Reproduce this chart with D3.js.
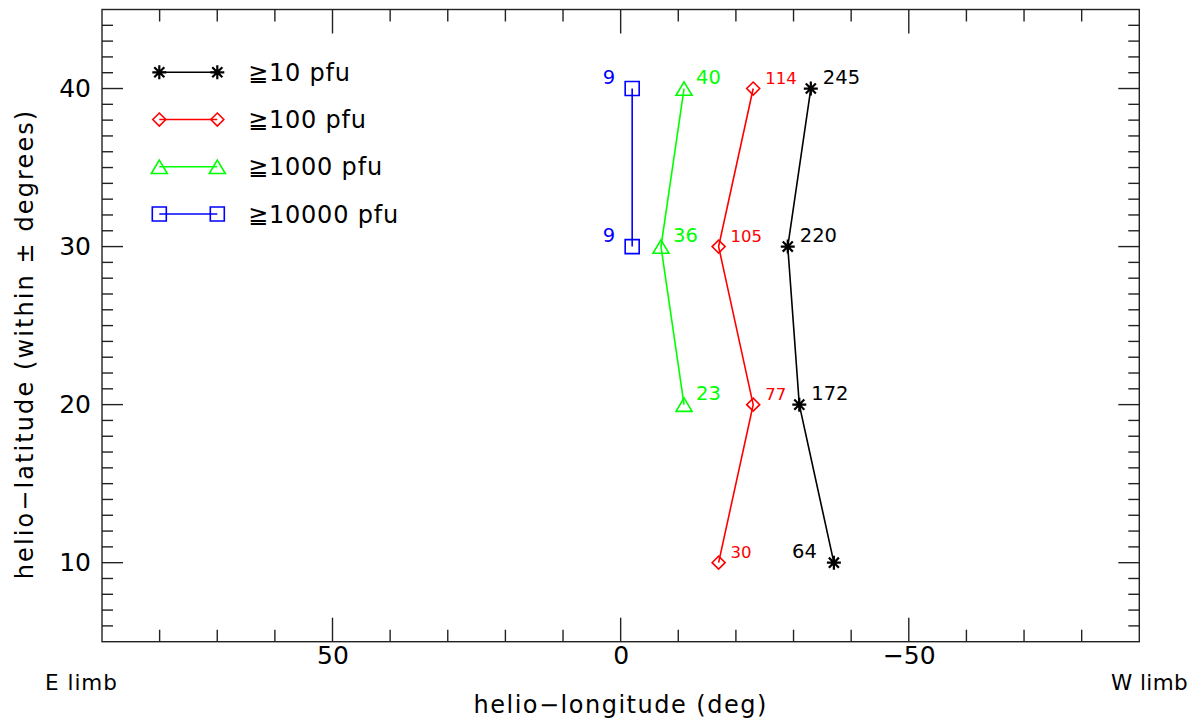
<!DOCTYPE html>
<html>
<head>
<meta charset="utf-8">
<script src="https://cdn.jsdelivr.net/npm/d3@7"></script>
<style>
    body { margin: 0; background: #fff; }
    text { font-family: "DejaVu Sans", sans-serif; }
</style>
</head>
<body>
<div id="main"></div>
<script>
// data
const lat10 = [10, 20, 30, 40];
const lon10 = [-37, -31, -29, -33];
const cnt10 = [64, 172, 220, 245];

const lat100 = [10, 20, 30, 40];
const lon100 = [-17, -23, -17, -23];
const cnt100 = [30, 77, 105, 114];

const lat1000 = [20, 30, 40];
const lon1000 = [-11, -7, -11];
const cnt1000 = [23, 36, 40];

const lat10000 = [30, 40];
const lon10000 = [-2, -2];
const cnt10000 = [9, 9];

const seriesNames = ["\u226710 pfu", "\u2267100 pfu", "\u22671000 pfu", "\u226710000 pfu"];
const xMajor = [50, 0, -50];
const yMajor = [10, 20, 30, 40];

const width = 1195, height = 725;
const margin = {left: 102, top: 9.5, right: 55.7, bottom: 83.3};

let svg = d3.select("#main").append("svg")
    .attr("width", width)
    .attr("height", height);

let scaleX = d3.scaleLinear().domain([90, -90]).range([margin.left, width - margin.right]);
let scaleY = d3.scaleLinear().domain([5, 45]).range([height - margin.bottom, margin.top]);

const series = [
    {lat: lat10, lon: lon10, cnt: cnt10, color: "#000", sym: "star", fs: 19.5, left: [true, false, false, false]},
    {lat: lat100, lon: lon100, cnt: cnt100, color: "#ff0000", sym: "diamond", fs: 16.5, left: [false, false, false, false]},
    {lat: lat1000, lon: lon1000, cnt: cnt1000, color: "#00ff00", sym: "triangle", fs: 19.5, left: [false, false, false]},
    {lat: lat10000, lon: lon10000, cnt: cnt10000, color: "#0000ff", sym: "square", fs: 19.5, left: [true, true]}
];

function symbolPath(type) {
    let p = d3.path();
    if (type === "star") {
        let r = 7, d = r * 0.72;
        p.moveTo(-r, 0); p.lineTo(r, 0);
        p.moveTo(0, -r); p.lineTo(0, r);
        p.moveTo(-d, -d); p.lineTo(d, d);
        p.moveTo(-d, d); p.lineTo(d, -d);
    } else if (type === "diamond") {
        let r = 6.5;
        p.moveTo(0, -r); p.lineTo(r, 0); p.lineTo(0, r); p.lineTo(-r, 0); p.closePath();
    } else if (type === "triangle") {
        p.moveTo(0, -6.7); p.lineTo(8, 6.7); p.lineTo(-8, 6.7); p.closePath();
    } else {
        p.rect(-7, -7, 14, 14);
    }
    return p.toString();
}

function drawAxes() {
    let g = svg.append("g").attr("stroke", "#222").attr("stroke-width", 1.4).attr("fill", "none");
    let x0 = margin.left, x1 = width - margin.right;
    let y0 = height - margin.bottom, y1 = margin.top;
    g.append("rect").attr("x", x0).attr("y", y1).attr("width", x1 - x0).attr("height", y0 - y1);

    let xMinor = d3.range(-80, 81, 10);
    let yMinor = d3.range(6, 45, 1);

    xMinor.forEach(function (v) {
        let len = xMajor.includes(v) ? 24 : 12;
        g.append("line").attr("x1", scaleX(v)).attr("x2", scaleX(v)).attr("y1", y0).attr("y2", y0 - len);
        g.append("line").attr("x1", scaleX(v)).attr("x2", scaleX(v)).attr("y1", y1).attr("y2", y1 + len);
    });
    yMinor.forEach(function (v) {
        let len = yMajor.includes(v) ? 21 : 11;
        g.append("line").attr("y1", scaleY(v)).attr("y2", scaleY(v)).attr("x1", x0).attr("x2", x0 + len);
        g.append("line").attr("y1", scaleY(v)).attr("y2", scaleY(v)).attr("x1", x1).attr("x2", x1 - len);
    });

    // tick labels through d3 axes, with their own lines hidden
    let fmt = d3.format("d");
    let ax = svg.append("g")
        .attr("transform", "translate(0," + y0 + ")")
        .call(d3.axisBottom(scaleX).tickValues(xMajor).tickFormat(fmt).tickSize(0).tickPadding(20));
    ax.select(".domain").remove();
    ax.selectAll("text").attr("font-size", 25).attr("fill", "#000")
        .attr("font-family", "DejaVu Sans").attr("dy", "0.1em");

    let ay = svg.append("g")
        .attr("transform", "translate(" + x0 + ",0)")
        .call(d3.axisLeft(scaleY).tickValues(yMajor).tickFormat(fmt).tickSize(0).tickPadding(11));
    ay.select(".domain").remove();
    ay.selectAll("text").attr("font-size", 25).attr("fill", "#000")
        .attr("font-family", "DejaVu Sans");

    svg.append("text")
        .attr("x", (x0 + x1) / 2).attr("y", 713)
        .attr("text-anchor", "middle").attr("font-size", 24).attr("letter-spacing", 1.5)
        .text("helio\u2212longitude (deg)");

    svg.append("text")
        .attr("transform", "translate(33,344) rotate(-90)")
        .attr("text-anchor", "middle").attr("font-size", 24).attr("letter-spacing", 2.1)
        .text("helio\u2212latitude (within \u00b1 degrees)");

    svg.append("text").attr("x", 45).attr("y", 690).attr("font-size", 21.5).attr("letter-spacing", 1)
        .text("E limb");
    svg.append("text").attr("x", 1111).attr("y", 690).attr("font-size", 21.5).attr("letter-spacing", 0.4)
        .text("W limb");
}

function drawSeries() {
    series.forEach(function (s) {
        let pts = s.lat.map(function (d, i) { return [s.lon[i], d, s.cnt[i], s.left[i]]; });
        let g = svg.append("g");
        g.append("path")
            .datum(pts)
            .attr("fill", "none")
            .attr("stroke", s.color)
            .attr("stroke-width", 1.6)
            .attr("d", d3.line()
                .x(function (d) { return scaleX(d[0]); })
                .y(function (d) { return scaleY(d[1]); })
            );
        g.selectAll(".mk").data(pts).enter().append("path")
            .attr("class", "mk")
            .attr("transform", function (d) { return "translate(" + scaleX(d[0]) + "," + scaleY(d[1]) + ")"; })
            .attr("d", symbolPath(s.sym))
            .attr("fill", "none")
            .attr("stroke", s.color)
            .attr("stroke-width", s.sym === "star" ? 2.2 : 1.6);
        g.selectAll(".lb").data(pts).enter().append("text")
            .attr("x", function (d) { return scaleX(d[0]) + (d[3] ? -17 : 12); })
            .attr("y", function (d) { return scaleY(d[1]) - 4.5; })
            .attr("text-anchor", function (d) { return d[3] ? "end" : "start"; })
            .attr("font-size", s.fs)
            .attr("fill", s.color)
            .text(function (d) { return d[2]; });
    });
}

function drawLegend() {
    let rowY = d3.scaleLinear().domain([0, 3]).range([72.3, 214]);
    series.forEach(function (s, i) {
        let y = rowY(i);
        let g = svg.append("g");
        g.append("line").attr("x1", 159.3).attr("x2", 217.3).attr("y1", y).attr("y2", y)
            .attr("stroke", s.color).attr("stroke-width", 1.6);
        [159.3, 217.3].forEach(function (x) {
            g.append("path")
                .attr("transform", "translate(" + x + "," + y + ")")
                .attr("d", symbolPath(s.sym))
                .attr("fill", "none")
                .attr("stroke", s.color)
                .attr("stroke-width", s.sym === "star" ? 2.2 : 1.6);
        });
        g.append("text").attr("x", 248).attr("y", y + 8.5)
            .attr("font-size", 24).attr("letter-spacing", 0.8)
            .text(seriesNames[i]);
    });
}

drawAxes();
drawSeries();
drawLegend();
</script>
</body>
</html>
